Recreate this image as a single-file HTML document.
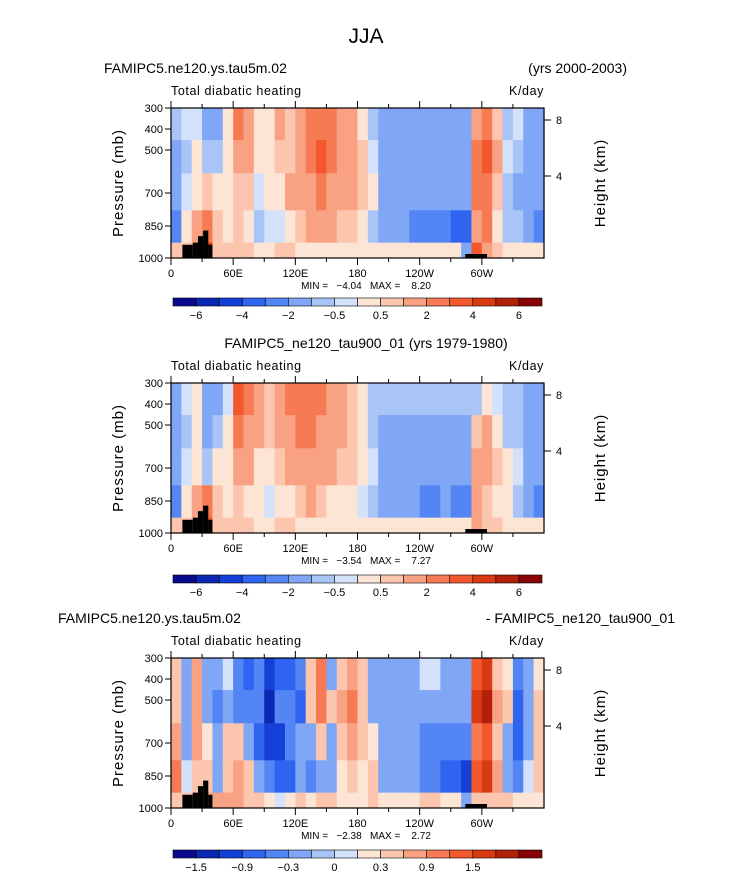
<!DOCTYPE html>
<html><head><meta charset="utf-8"><style>
body{margin:0;background:#fff}
svg text{font-family:"Liberation Sans",sans-serif;fill:#000}
</style></head><body>
<svg id="chart" width="733" height="888" viewBox="0 0 733 888" xmlns="http://www.w3.org/2000/svg">
<text x="366" y="43" font-size="21" text-anchor="middle" style="font-weight:300">JJA</text>
</svg>
<script>
// ---- data ----
const lonTicks = ["0","60E","120E","180","120W","60W"];
const presTicks = [300,400,500,700,850,1000];
const heightTicks = ["8","4"];
const bandEdges = [300,450,600,775,925,1000];
const levels1 = [-6,-5,-4,-3,-2,-1,-0.5,0,0.5,1,2,3,4,5,6];
const levels3 = [-1.8,-1.5,-1.2,-0.9,-0.6,-0.3,-0.15,0,0.15,0.3,0.6,0.9,1.2,1.5,1.8];
const cbLabels1 = ["-6","-4","-2","-0.5","0.5","2","4","6"];
const cbLabels3 = ["-1.5","-0.9","-0.3","0","0.3","0.9","1.5"];
const colors = ["#0a0a8c","#0a28b4","#1440d8","#2e64f0","#5485f5","#80a6f6","#a9c4f7","#d3e2fa","#fde5d6","#fcc5ae","#f9a283","#f67b55","#f2582c","#d83a14","#b2200a","#880404"];
// values per 10-degree column: [300-450, 450-600, 600-775, 775-925, 925-1000]
const panel1 = [
[-0.7,-1,-1,-2,1],[-0.3,-0.8,-0.3,0.3,1],[-0.3,0.5,0.5,1.5,1],[-1,-0.5,0.8,3,5],[-1.5,-0.5,0.3,1,1],[0.3,0.3,0.5,0.5,1],
[3,2,1,1,1],[2,1.5,0.8,0.5,1],[0.5,0.3,-0.3,-0.5,0.5],[0.5,0.3,0.3,-0.3,0.3],[1.5,1,0.5,-0.3,1],[1,1,1.5,0.5,1],
[2,2,2,1,0.5],[3,3,2,1.5,0.5],[3,4,2.5,1.5,0.3],[2.5,3,2,1.5,0.3],[2,2,2,1,0.3],[1.5,2,1.5,0.8,0.3],
[0.5,1,1,0.5,0.3],[-0.5,-0.3,0.3,-0.5,0.3],[-1.5,-1.5,-1.5,-1.5,0.3],[-1.5,-1.5,-1.5,-1.5,0.3],[-1.5,-1.5,-1.5,-1.5,0.3],[-1.5,-1.5,-1.5,-2.5,0.3],
[-1.5,-1.5,-1.5,-2.5,0.3],[-1.5,-1.5,-1.5,-2.5,0.3],[-1.5,-1.5,-1.5,-2.5,0.3],[-1.2,-1.5,-1.5,-3,0.3],[-1,-1.5,-1.5,-3,-1],[2,3,3,2,4],
[3,4,3,3,2],[1,1.5,1,0.5,1],[-0.5,-0.3,-0.5,-0.5,0.5],[-0.3,-0.5,-1,-0.5,0.5],[-1.5,-1.5,-1,-1.5,0.5],[-1,-1,-1,-2,0.5]];
const panel2 = [
[-1,-1,-1,-2,1],[-0.3,-0.5,-0.3,0.3,1],[0.3,0.3,0.5,1.5,1],[-1.5,-1,-0.5,3,4],[-1,-0.5,0.3,1,1],[-0.3,0.3,0.5,0.5,1],
[4,3,2,1,1],[3,2,1.5,0.5,1],[2,1.5,0.5,0.3,0.5],[1,1,0.3,-0.3,0.5],[2,2,1,0.5,1],[3,2,1.5,0.5,1],
[3,3,2,1,0.5],[3,3,2,1.5,0.5],[3,2,1.5,1,0.5],[2,2,1.5,0.5,0.3],[2,1.5,1,0.5,0.3],[1,1,1,0.5,0.3],
[0.3,0.3,0.5,-0.3,0.3],[-0.5,-0.5,-0.3,-0.5,0.3],[-0.8,-1.5,-1.5,-1.5,0.3],[-0.8,-1.5,-1.5,-1.5,0.3],[-0.8,-1.5,-1.5,-1.5,0.3],[-0.8,-1.5,-1.5,-1.5,0.3],
[-0.8,-1.5,-1.5,-2.5,0.3],[-0.8,-1.5,-1.5,-2.5,0.3],[-0.8,-1.5,-1.5,-1.5,0.3],[-0.8,-1.5,-1.5,-2.5,0.3],[-0.5,-1,-1.5,-2,0.5],[-0.5,1,2,2,2],
[0.3,2,2,1,1],[-0.3,0.5,1,0.5,1],[-0.5,-0.5,0.5,0.3,0.5],[-0.5,-0.5,-0.3,-0.5,0.5],[-1.5,-1,-1,-1,0.5],[-1,-1,-1,-2,0.5]];
const panel3 = [
[0.3,0.3,0.5,0.9,0.3],[-0.3,-0.3,-0.3,-0.1,0.3],[0.6,0.6,0.6,0.3,0.3],[-0.3,-0.3,0.1,0.3,0.6],[-0.3,-0.6,-0.3,-0.3,0.6],[-0.1,-0.3,0.3,0.3,0.6],
[-0.6,-0.6,0.3,0.6,0.6],[-0.9,-0.6,-0.3,0.3,0.3],[-0.6,-0.6,-0.9,-0.3,0.3],[-1.2,-1.5,-1.2,-0.6,0.1],[-0.9,-0.6,-1.2,-0.9,-0.1],[-0.9,-0.6,-0.6,-0.9,0.1],
[-0.6,-0.9,-0.3,-0.3,0.3],[0.3,0.3,-0.3,-0.6,0.1],[0.9,0.9,0.3,-0.3,0.3],[-0.3,0.3,-0.3,-0.3,0.3],[0.3,0.6,0.3,0.1,0.1],[0.6,0.9,0.6,0.3,0.1],
[0.3,0.3,0.3,0.1,0.1],[-0.3,-0.3,0.1,0.3,0.3],[-0.3,-0.3,-0.3,-0.3,0.1],[-0.3,-0.3,-0.3,-0.3,0.1],[-0.3,-0.3,-0.3,-0.3,0.1],[-0.3,-0.3,-0.3,-0.3,0.1],
[-0.1,-0.3,-0.6,-0.6,0.3],[-0.1,-0.3,-0.6,-0.6,0.3],[-0.3,-0.3,-0.6,-0.9,0.1],[-0.3,-0.3,-0.6,-0.9,0.1],[-0.3,-0.3,-0.6,-1.2,-0.3],[1.2,1.5,0.9,1.2,0.3],
[1.5,1.8,1.2,1.5,0.3],[0.3,0.6,0.3,0.6,0.3],[0.1,0.3,-0.3,-0.3,0.3],[-0.6,-0.9,-0.9,-0.6,0.1],[-0.3,-0.3,-0.3,-0.1,0.1],[0.1,0.3,0.3,0.3,0.1]];
// topography blocks: [lon0, lon1, top pressure]
const topoLon0 = [11,21,26,31,36,284,297];
const topoLon1 = [21,26,31,36,40,299,305];
const topoPres = [935,925,895,870,935,980,980];

const NS="http://www.w3.org/2000/svg";
const svg=document.getElementById('chart');
function mk(tag,attrs,parent){const e=document.createElementNS(NS,tag);for(const k in attrs)e.setAttribute(k,attrs[k]);(parent||svg).appendChild(e);return e;}
const X0=171,X1=544,W=X1-X0,H=150;
const yFrac=[0,21,42,85,118,150];
function xs(lon){return X0+lon/360*W;}
function ys(p,top){
  if(p<=presTicks[0])return top;
  for(let i=1;i<presTicks.length;i++){if(p<=presTicks[i]){const lp=Math.log(p),a=Math.log(presTicks[i-1]),b=Math.log(presTicks[i]);return top+yFrac[i-1]+(lp-a)/(b-a)*(yFrac[i]-yFrac[i-1]);}}
  return top+H;
}
function colorFor(v,lv){let i=0;while(i<lv.length&&v>lv[i])i++;return colors[i];}

function panel(top,data,lv,cbTop,cbLab,mn,mx){
  const g=mk('g',{});
  
  
  data.forEach((col,ci)=>{
    col.forEach((v,ri)=>{
      const y0=ys(bandEdges[ri],top),y1=ys(bandEdges[ri+1],top);
      const r=mk('rect',{x:xs(ci*10),y:y0,width:W/36+0.6,height:y1-y0+0.6,fill:colorFor(v,lv)},g);
      
      
    });
  });
  topoLon0.forEach((l0,i)=>{
    const y=ys(topoPres[i],top);
    const r=mk('rect',{x:xs(l0),y:y,width:xs(topoLon1[i])-xs(l0),height:top+H-y,fill:'#000'},g);
    
    
  });
  const f=mk('rect',{x:X0,y:top,width:W,height:H,fill:'none',stroke:'#000','stroke-width':1.2},g);
  
  
  for(let l=0;l<360;l+=30){
    const x=xs(l),len=l%60===0?7:4;
    mk('line',{x1:x,x2:x,y1:top+H,y2:top+H+len,stroke:'#000'},g);
    mk('line',{x1:x,x2:x,y1:top,y2:top-len,stroke:'#000'},g);
  }
  lonTicks.forEach((t,i)=>{const e=mk('text',{x:xs(i*60),y:top+H+19,'font-size':11,'text-anchor':'middle'},g);e.textContent=t;
    });
  presTicks.forEach(p=>{const y=ys(p,top);mk('line',{x1:X0-6,x2:X0,y1:y,y2:y,stroke:'#000'},g);
    const e=mk('text',{x:X0-8,y:y+4,'font-size':11,'text-anchor':'end'},g);e.textContent=p;
    });
  heightTicks.forEach((t,i)=>{const y=top+(i===0?12:68);mk('line',{x1:X1,x2:X1+7,y1:y,y2:y,stroke:'#000'},g);
    const e=mk('text',{x:X1+12,y:y+4,'font-size':11},g);e.textContent=t;
    });
  let e=mk('text',{x:X0,y:top-13,'font-size':12.5,'letter-spacing':'0.6'},g);e.textContent='Total diabatic heating';
  
  e=mk('text',{x:X1,y:top-13,'font-size':12.5,'text-anchor':'end','letter-spacing':'0.6'},g);e.textContent='K/day';
  
  e=mk('text',{x:0,y:0,'font-size':15,'text-anchor':'middle','letter-spacing':'1',transform:`translate(123,${top+75}) rotate(-90)`},g);e.textContent='Pressure (mb)';
  
  e=mk('text',{x:0,y:0,'font-size':15,'text-anchor':'middle','letter-spacing':'1',transform:`translate(605,${top+75}) rotate(-90)`},g);e.textContent='Height (km)';
  
  e=mk('text',{x:366,y:top+H+31,'font-size':10,'text-anchor':'middle'},g);e.textContent=`MIN =   ${mn}   MAX =    ${mx}`;
  
  e.setAttribute('xml:space','preserve');e.style.whiteSpace='pre';
  // colorbar
  const cx0=173,cw=(542-173)/16;
  colors.forEach((c,i)=>{const r=mk('rect',{x:cx0+i*cw,y:cbTop,width:cw,height:8,fill:c,stroke:'#000','stroke-width':0.6},g);
    });
  cbLab.forEach((t,i)=>{const e2=mk('text',{x:cx0+(2*i+1)*cw,y:cbTop+21,'font-size':11,'text-anchor':'middle'},g);e2.textContent=t.replace('-','\u2212');
    });
}
panel(108,panel1,levels1,298,cbLabels1,'\u22124.04','8.20');
panel(383,panel2,levels1,575,cbLabels1,'\u22123.54','7.27');
panel(658,panel3,levels3,850,cbLabels3,'\u22122.38','2.72');
function title(x,y,t,anchor,name){const e=mk('text',{x:x,y:y,'font-size':14,'text-anchor':anchor});e.textContent=t;
  }
title(104,73,'FAMIPC5.ne120.ys.tau5m.02','start','panel1-title');
title(627,73,'(yrs 2000-2003)','end','panel1-years');
title(366,348,'FAMIPC5_ne120_tau900_01 (yrs 1979-1980)','middle','panel2-title');
title(58,623,'FAMIPC5.ne120.ys.tau5m.02','start','panel3-title-left');
title(675,623,'- FAMIPC5_ne120_tau900_01','end','panel3-title-right');
</script>
</body></html>
